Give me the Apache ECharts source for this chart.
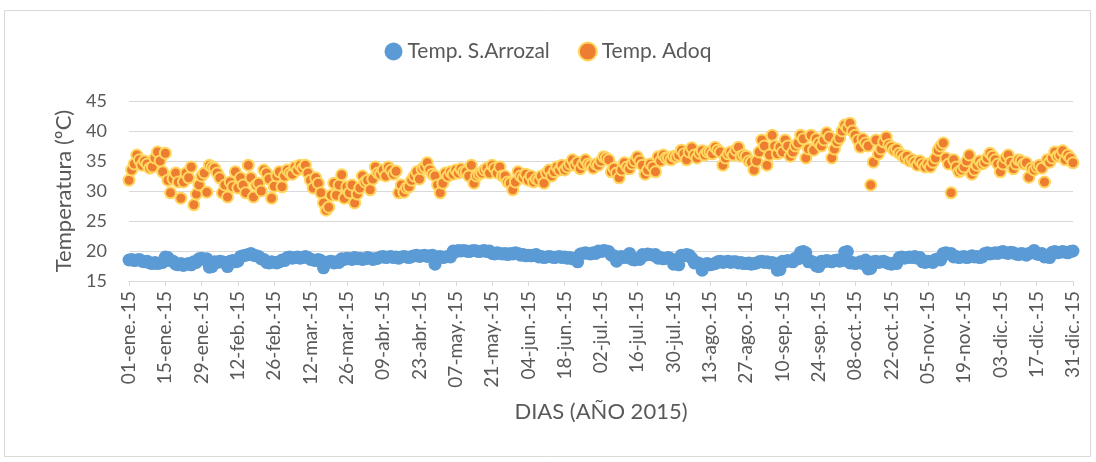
<!DOCTYPE html>
<html>
<head>
<meta charset="utf-8">
<script src="https://cdn.jsdelivr.net/npm/echarts@6/dist/echarts.min.js"></script>
<style>
  html, body { margin: 0; padding: 0; background: #fff; }
  #chart { width: 1096px; height: 462px; }
</style>
</head>
<body>
<div id="chart"></div>
<script>
// nombres de meses y dias por mes (2015)
const monthNames = ['ene.', 'feb.', 'mar.', 'abr.', 'may.', 'jun.', 'jul.', 'ago.', 'sep.', 'oct.', 'nov.', 'dic.'];
const monthDays = [31, 28, 31, 30, 31, 30, 31, 31, 30, 31, 30, 31];
const yearSuffix = '15';

// ticks del eje Y
const yTicks = [15, 20, 25, 30, 35, 40, 45];

// Temp. S.Arrozal (una fila por mes)
const tempArrozal = [
    18.5, 18.6, 18.4, 18.5, 18.6, 18.3, 18.2, 18.3, 18.0, 17.9, 18.1, 17.9, 18.0, 18.1, 19.0, 18.9, 18.4, 18.3, 17.8, 17.7, 17.9, 17.6, 17.8, 17.9, 17.7, 18.2, 18.1, 18.7, 18.8, 18.6, 18.7,
    17.3, 17.4, 18.2, 18.1, 18.3, 18.2, 18.0, 17.4, 18.3, 18.4, 18.2, 18.3, 19.1, 19.2, 19.3, 19.4, 19.6, 19.3, 19.2, 19.1, 18.7, 18.6, 18.1, 18.0, 18.2, 18.1, 18.0, 18.2,
    18.5, 18.4, 18.9, 19.0, 18.8, 18.9, 19.0, 18.8, 18.9, 19.1, 18.9, 18.6, 18.5, 18.4, 18.6, 18.4, 17.2, 18.1, 18.2, 18.3, 18.0, 18.2, 18.1, 18.7, 18.6, 18.8, 18.7, 18.6, 18.9, 18.7, 18.8,
    18.6, 18.7, 18.9, 18.8, 18.6, 18.7, 18.8, 19.0, 19.1, 18.9, 19.0, 19.1, 18.9, 19.0, 18.8, 19.0, 19.1, 19.0, 18.9, 19.1, 19.2, 19.3, 19.1, 19.2, 19.3, 19.1, 19.2, 19.3, 17.8, 19.0,
    19.1, 18.9, 19.0, 19.1, 19.0, 20.0, 19.9, 20.1, 20.0, 20.1, 20.0, 19.9, 20.0, 20.1, 20.0, 19.9, 20.0, 20.1, 19.9, 20.0, 19.6, 19.5, 19.7, 19.6, 19.5, 19.6, 19.4, 19.6, 19.5, 19.7, 19.6,
    19.3, 19.4, 19.2, 19.3, 19.2, 19.3, 19.4, 19.0, 19.1, 18.9, 19.0, 19.1, 19.0, 18.9, 19.0, 19.1, 18.9, 19.0, 18.8, 18.9, 18.7, 18.8, 18.2, 19.5, 19.6, 19.7, 19.6, 19.5, 19.7, 19.6,
    20.0, 19.9, 20.1, 20.0, 19.9, 19.3, 19.2, 18.3, 19.0, 19.1, 18.9, 19.0, 19.6, 18.6, 18.5, 18.7, 18.6, 19.4, 19.3, 19.5, 19.4, 19.3, 19.4, 18.8, 18.9, 18.7, 18.8, 18.9, 18.7, 17.8, 17.9,
    17.7, 19.3, 19.2, 19.4, 19.3, 18.8, 18.0, 18.1, 17.9, 16.8, 17.8, 17.9, 17.7, 17.8, 17.9, 18.2, 18.3, 18.1, 18.2, 18.3, 18.1, 18.2, 18.2, 18.0, 18.1, 17.9, 17.9, 18.0, 17.8, 17.9, 18.0,
    18.2, 18.3, 18.1, 18.2, 18.0, 18.1, 17.9, 16.8, 16.9, 18.3, 18.2, 18.4, 18.3, 18.2, 18.8, 18.7, 19.8, 19.9, 19.7, 18.2, 18.3, 18.1, 17.5, 17.4, 18.3, 18.2, 18.4, 18.3, 18.2, 18.4,
    18.5, 18.3, 18.4, 19.8, 19.9, 18.0, 18.1, 17.9, 18.0, 18.2, 17.9, 18.5, 17.0, 17.1, 18.2, 18.3, 18.1, 18.2, 18.3, 18.1, 17.9, 17.8, 18.0, 17.9, 18.9, 19.0, 18.8, 18.9, 19.0, 18.9, 19.1,
    18.8, 18.9, 18.2, 18.1, 18.3, 18.2, 18.1, 18.6, 18.7, 18.5, 19.6, 19.7, 19.5, 19.6, 19.0, 19.1, 18.9, 19.0, 19.1, 18.9, 19.0, 19.2, 19.0, 19.1, 18.9, 19.0, 19.6, 19.7, 19.5, 19.6,
    19.7, 19.6, 19.8, 19.9, 19.7, 19.6, 19.8, 19.7, 19.5, 19.4, 19.6, 19.5, 19.3, 19.6, 19.7, 20.1, 19.5, 19.4, 19.6, 19.0, 19.1, 18.9, 19.8, 19.9, 19.7, 19.8, 19.9, 19.8, 19.7, 19.9, 20.0
];

// Temp. Adoq (una fila por mes)
const tempAdoq = [
    31.8, 33.5, 34.5, 36, 35.2, 34.3, 35, 34.5, 33.8, 34, 35.5, 36.5, 35, 33.2, 36.3, 31.8, 29.7, 32, 33, 31.5, 28.8, 31.5, 33, 32.2, 34, 27.7, 29.5, 31, 32.5, 33, 29.8,
    34.3, 34, 33.8, 33, 32.2, 29.7, 31, 29, 31.5, 30.7, 33.2, 30.5, 32.2, 31, 29.7, 34.3, 32.2, 29, 31, 31.3, 30, 33.5, 33, 32, 28.8, 30.8, 32.5, 33.2,
    30.7, 32.5, 33.5, 33, 32.8, 34, 33.5, 34.3, 33.8, 34.3, 33, 31.8, 30.5, 32.2, 31.3, 29.7, 28, 26.8, 27.3, 29.3, 31.3, 29.3, 31, 32.7, 28.8, 30.7, 29.7, 31, 28, 29.5, 30.5,
    32.5, 31.5, 31.8, 30.2, 32, 34, 33, 32.8, 33.5, 32.5, 34, 33.5, 32.8, 33.3, 29.7, 31, 29.8, 30.5, 30.7, 31.8, 32.5, 33.2, 32, 33.7, 34, 34.7, 33.5, 32.8, 32.5, 31,
    29.7, 31.3, 33, 32.5, 33.2, 32.8, 33.5, 33, 33.7, 33.2, 33.2, 32.5, 34.3, 31.3, 32.5, 32.8, 33, 33.5, 33.8, 33, 34.3, 33.8, 33, 34, 32.5, 32.5, 31.5, 31.3, 30.2, 31.5, 33.2,
    32.5, 32.2, 32.8, 31.8, 32.5, 31.5, 32, 31.8, 32.5, 31.3, 33, 33.5, 32.5, 33.2, 34, 33.5, 34.3, 33.5, 34, 34.5, 35.2, 34.3, 34.8, 33.7, 34.5, 35.2, 34.5, 34.3, 33.8, 34.5,
    34.3, 35, 35.7, 35.5, 35.2, 33.2, 33.8, 33, 32.2, 33.5, 34.7, 34, 33.7, 34.5, 35, 35.7, 35, 34.3, 32.8, 33.5, 34.5, 34, 33.2, 35.7, 35, 36, 35.5, 35.5, 35.2, 35.8, 35.7,
    36, 36.8, 36.2, 35.2, 36.5, 37.2, 36, 35.5, 36.3, 36.7, 36, 36.5, 36.5, 36.2, 37.3, 36.8, 36.5, 34.3, 35.5, 36.2, 36.5, 36, 36.8, 37.3, 35.8, 36, 35.8, 35, 34.8, 33.5, 35,
    36.5, 38.5, 37.5, 34.3, 36, 39.3, 37.5, 36.2, 37.3, 36.5, 38.5, 37.5, 35.8, 36.5, 37.5, 38, 39.3, 38.7, 35.5, 37, 39.3, 36.8, 38.7, 38, 37.5, 38.5, 39.7, 39, 35.5, 37,
    38.2, 38.8, 40, 41, 40.5, 41.3, 40, 39.3, 38.5, 37.3, 38.7, 38, 37.5, 31, 34.8, 38.5, 36.2, 37, 38.2, 39, 37.7, 37.3, 36.8, 37, 36.3, 36, 35.5, 35.8, 35, 35.2, 34.8,
    34.3, 35, 34.5, 34, 34.5, 34, 34.8, 35.5, 36.8, 37.5, 38, 35.5, 34.5, 29.7, 35.2, 34, 33.2, 33.5, 34, 35, 36, 32.8, 33.5, 34.3, 35, 34.5, 34.8, 35.5, 36.3, 35.8,
    35.2, 34.5, 33.2, 34.5, 35.5, 36, 34.8, 33.7, 34.5, 35.2, 35, 34.5, 34.7, 32.3, 33.8, 33.5, 34, 34.3, 33.8, 31.5, 35.2, 34.8, 35.5, 36.5, 35.8, 36, 36.7, 35.2, 36, 35.5, 34.7
];

// construir las fechas del eje X: "01-ene.-15"
let dias = [];
monthDays.forEach(function (n, m) {
    for (let d = 1; d <= n; d++) {
        dias.push((d < 10 ? '0' + d : '' + d) + '-' + monthNames[m] + '-' + yearSuffix);
    }
});

const fontFamily = 'Lato, "Liberation Sans", sans-serif';
const textColor = '#595959';

let chart = echarts.init(document.getElementById('chart'));

let option = {
    backgroundColor: '#fff',
    animation: false,
    textStyle: { fontFamily: fontFamily },
    graphic: [{
        type: 'rect',
        shape: { x: 4.5, y: 10.5, width: 1086, height: 446 },
        style: { fill: 'none', stroke: '#D9D9D9', lineWidth: 1 },
        silent: true
    }],
    legend: {
        top: 36,
        left: 'center',
        itemWidth: 18,
        itemHeight: 18,
        itemGap: 28,
        textStyle: { color: textColor, fontSize: 21, fontFamily: fontFamily }
    },
    grid: { left: 129, right: 23, top: 101, bottom: 181 },
    xAxis: {
        type: 'category',
        data: dias,
        boundaryGap: false,
        name: 'DIAS (AÑO 2015)',
        nameLocation: 'middle',
        nameGap: 120,
        nameTextStyle: { color: textColor, fontSize: 22, fontFamily: fontFamily },
        axisLine: { lineStyle: { color: '#D9D9D9' } },
        axisTick: { interval: 13, length: 5, lineStyle: { color: '#D9D9D9' } },
        axisLabel: {
            interval: 13,
            rotate: 90,
            margin: 10,
            color: textColor,
            fontSize: 19,
            fontFamily: fontFamily
        },
        splitLine: { show: false }
    },
    yAxis: {
        type: 'value',
        min: yTicks[0],
        max: yTicks[yTicks.length - 1],
        interval: 5,
        name: 'Temperatura (ºC)',
        nameLocation: 'middle',
        nameGap: 52,
        nameTextStyle: { color: textColor, fontSize: 22, fontFamily: fontFamily },
        axisLine: { show: false },
        axisTick: { show: false },
        axisLabel: { color: textColor, fontSize: 18, margin: 22, fontFamily: fontFamily },
        splitLine: { lineStyle: { color: '#D9D9D9', width: 1 } }
    },
    series: [
        {
            name: 'Temp. S.Arrozal',
            type: 'scatter',
            data: tempArrozal,
            symbol: 'circle',
            symbolSize: 13,
            itemStyle: { color: '#5B9BD5', opacity: 1 }
        },
        {
            name: 'Temp. Adoq',
            type: 'scatter',
            data: tempAdoq,
            symbol: 'circle',
            symbolSize: 11,
            itemStyle: { color: '#ED7D31', borderColor: '#FFD75E', borderWidth: 2, opacity: 1 }
        }
    ]
};

chart.setOption(option);
</script>
</body>
</html>
